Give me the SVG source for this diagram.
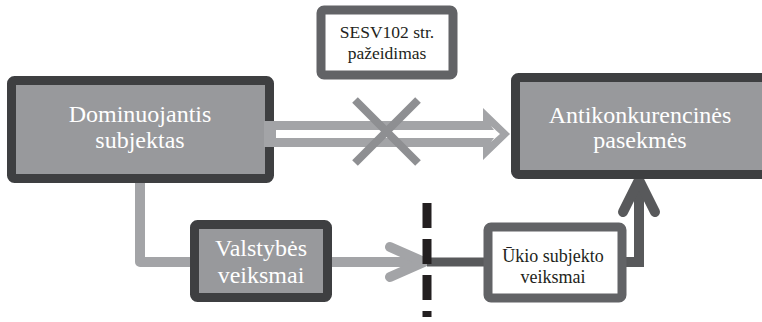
<svg xmlns="http://www.w3.org/2000/svg" width="762" height="322" viewBox="0 0 762 322">
<style>
.dark{fill:#98999c;stroke:#3e3f41;stroke-width:9}
.lite{fill:#ffffff;stroke:#626366;stroke-width:9}
.t{font-family:'Liberation Serif','DejaVu Serif',serif;text-anchor:middle}
.w{fill:#ffffff;font-size:24px}
.k{fill:#231f20}
</style>
<rect width="762" height="322" fill="#ffffff"/>
<g id="connectors">
  <path d="M264,121 H483 V108 L510,134 L483,160 V147 H264 Z" fill="#a3a4a7"/>
  <path d="M273,130 H494 L491,126 L500,134 L491,142 L494,138 H273 Z" fill="#ffffff"/>
  <g stroke="#8e8f92" stroke-width="8">
    <line x1="355" y1="100" x2="418" y2="163"/>
    <line x1="418" y1="100" x2="355" y2="163"/>
  </g>
  <path d="M140,183 V262 H424" fill="none" stroke="#a3a4a7" stroke-width="10" stroke-linejoin="round"/>
  <polyline points="390,247 424,262 390,277" fill="none" stroke="#a3a4a7" stroke-width="10" stroke-linecap="round" stroke-linejoin="round"/>
  <line x1="427" y1="262" x2="488" y2="262" stroke="#58595b" stroke-width="9"/>
  <path d="M622,262 H639 V180" fill="none" stroke="#58595b" stroke-width="10"/>
  <polyline points="623,212 639,180 655,212" fill="none" stroke="#58595b" stroke-width="10" stroke-linecap="round" stroke-linejoin="round"/>
  <line x1="427" y1="203" x2="427" y2="317" stroke="#231f20" stroke-width="9" stroke-dasharray="25 11"/>
</g>
<g id="dominuojantis">
  <rect class="dark" x="11.5" y="80.5" width="258" height="98" rx="3"/>
  <path d="M264,121 H276 V147 H264 Z" fill="#a3a4a7"/>
  <text class="t w" font-family="Liberation Serif" x="140" y="122">Dominuojantis</text>
  <text class="t w" font-family="Liberation Serif" x="140" y="148">subjektas</text>
</g>
<g id="sesv">
  <rect class="lite" x="321" y="10" width="132" height="65" rx="3" stroke="#6d6e71" stroke-width="8"/>
  <text class="t k" font-family="Liberation Serif" x="387" y="38" font-size="17.5">SESV102 str.</text>
  <text class="t k" font-family="Liberation Serif" x="387" y="59" font-size="17.5">pažeidimas</text>
</g>
<g id="antikonkurencines">
  <rect class="dark" x="515.5" y="77.5" width="260" height="97" rx="3"/>
  <text class="t w" font-family="Liberation Serif" x="640" y="123">Antikonkurencinės</text>
  <text class="t w" font-family="Liberation Serif" x="640" y="148">pasekmės</text>
</g>
<g id="valstybes">
  <rect class="dark" x="194.5" y="224.5" width="133" height="73" rx="3"/>
  <text class="t w" font-family="Liberation Serif" x="261" y="256">Valstybės</text>
  <text class="t w" font-family="Liberation Serif" x="261" y="283">veiksmai</text>
</g>
<g id="ukio">
  <rect class="lite" x="488" y="227" width="134" height="71" rx="3" stroke="#58595b" stroke-width="10"/>
  <text class="t k" font-family="Liberation Serif" x="553" y="262" font-size="18">Ūkio subjekto</text>
  <text class="t k" font-family="Liberation Serif" x="553" y="283" font-size="18">veiksmai</text>
</g>
</svg>
